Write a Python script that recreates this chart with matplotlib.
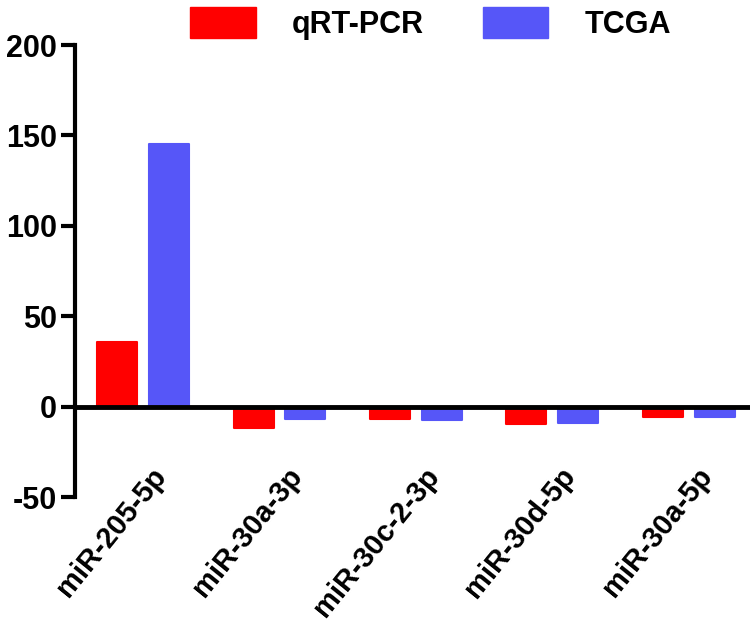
import numpy as np
import matplotlib
matplotlib.use('Agg')
import matplotlib.pyplot as plt
import matplotlib.transforms as mtransforms
from matplotlib.patches import Patch

plt.rcParams['font.family'] = ['Liberation Sans', 'DejaVu Sans']
plt.rcParams['font.weight'] = 'bold'

# data
mirnas = ['miR-205-5p', 'miR-30a-3p', 'miR-30c-2-3p', 'miR-30d-5p', 'miR-30a-5p']
qrt_pcr = [35.5, -11.6, -7.0, -9.4, -6.0]
tcga = [145.0, -7.0, -7.3, -8.8, -5.5]
yticks = [-50, 0, 50, 100, 150, 200]

RED = '#ff0000'
BLUE = '#5656f8'

fig = plt.figure(figsize=(7.5, 6.23), dpi=100)
ax = fig.add_axes([0.1, 0.2022, 0.9, 0.7255])

x = np.arange(len(mirnas))
w = 0.293
off = 0.19
ax.bar(x - off, qrt_pcr, w, color=RED, edgecolor=RED, linewidth=1.5, joinstyle='round')
ax.bar(x + off, tcga, w, color=BLUE, edgecolor=BLUE, linewidth=1.5, joinstyle='round')

ax.axhline(0, color='black', lw=3.5, zorder=3)
ax.set_xlim(-0.5, 4.45)
ax.set_ylim(-50, 200)
ax.set_yticks(yticks)
ax.set_yticklabels([str(t) for t in yticks], fontsize=22, fontweight='bold')

for s in ['top', 'right', 'bottom']:
    ax.spines[s].set_visible(False)
ax.spines['left'].set_linewidth(3)
ax.tick_params(axis='y', width=3, length=10, pad=3)
ax.tick_params(axis='x', length=0)

ax.set_xticks(x)
ax.set_xticklabels(mirnas, rotation=51, ha='right', rotation_mode='anchor',
                   fontsize=21, fontweight='bold')
shift = mtransforms.ScaledTranslation(0.07, 0.40, fig.dpi_scale_trans)
for lab in ax.get_xticklabels():
    lab.set_transform(lab.get_transform() + shift)

handles = [Patch(facecolor=RED, edgecolor=RED, joinstyle='round', label='qRT-PCR'),
           Patch(facecolor=BLUE, edgecolor=BLUE, joinstyle='round', label='TCGA')]
fig.legend(handles=handles, loc='center', bbox_to_anchor=(0.574, 0.962), ncol=2,
           frameon=False, handlelength=2.15, handleheight=1.15,
           handletextpad=1.18, columnspacing=1.93, borderpad=0,
           prop={'weight': 'bold', 'size': 22})

fig.savefig('out.png', dpi=100)
